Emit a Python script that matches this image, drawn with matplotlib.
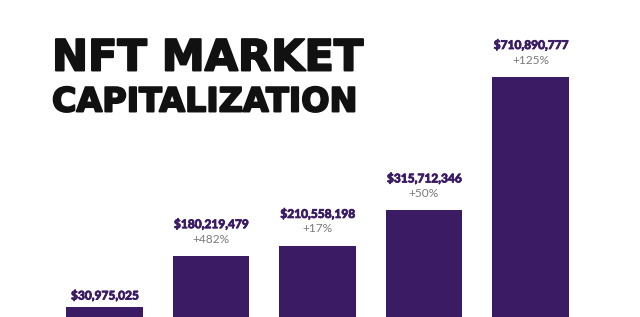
import matplotlib.pyplot as plt
import matplotlib.patheffects as pe

# Data
years = ["2018", "2019", "2020", "2021", "2022"]
values = [30975025, 180219479, 210558198, 315712346, 710890777]
value_labels = ["$30,975,025", "$180,219,479", "$210,558,198", "$315,712,346", "$710,890,777"]
growth_labels = ["", "+482%", "+17%", "+50%", "+125%"]

bar_color = "#3b1b64"

fig = plt.figure(figsize=(6.4, 3.17), dpi=100)
ax = fig.add_axes([0, 0, 1, 1])

x = list(range(len(values)))
ax.bar(x, values, width=0.72, color=bar_color)

ax.set_xlim(-0.981, 5.028)
ax.set_ylim(0, 939e6)
ax.axis("off")

bold_fx = [pe.withStroke(linewidth=0.6, foreground=bar_color)]

# per-pixel offset in data units
px = 939e6 / 317
for i, v in enumerate(values):
    off = 32 if growth_labels[i] else 11
    ax.text(i, v + off * px, value_labels[i], ha="center", va="center",
            fontsize=8.6, fontweight="bold", family=["Lato", "DejaVu Sans"],
            color=bar_color, path_effects=bold_fx)
    if growth_labels[i]:
        ax.text(i, v + 17 * px, growth_labels[i], ha="center", va="center",
                fontsize=8.6, fontweight="normal", family=["Lato", "DejaVu Sans"],
                color="#7a7a7a")

# Title
title_fx = [pe.withStroke(linewidth=1.4, foreground="#111111")]
fig.text(52 / 640, 1 - 58.5 / 317, "NFT MARKET", ha="left", va="center",
         fontsize=31, fontweight="bold", family="DejaVu Sans", color="#111111",
         path_effects=title_fx)
fig.text(52 / 640, 1 - 102 / 317, "CAPITALIZATION", ha="left", va="center",
         fontsize=24, fontweight="bold", family="DejaVu Sans", color="#111111",
         path_effects=title_fx)

fig.savefig("out.png", dpi=100)
